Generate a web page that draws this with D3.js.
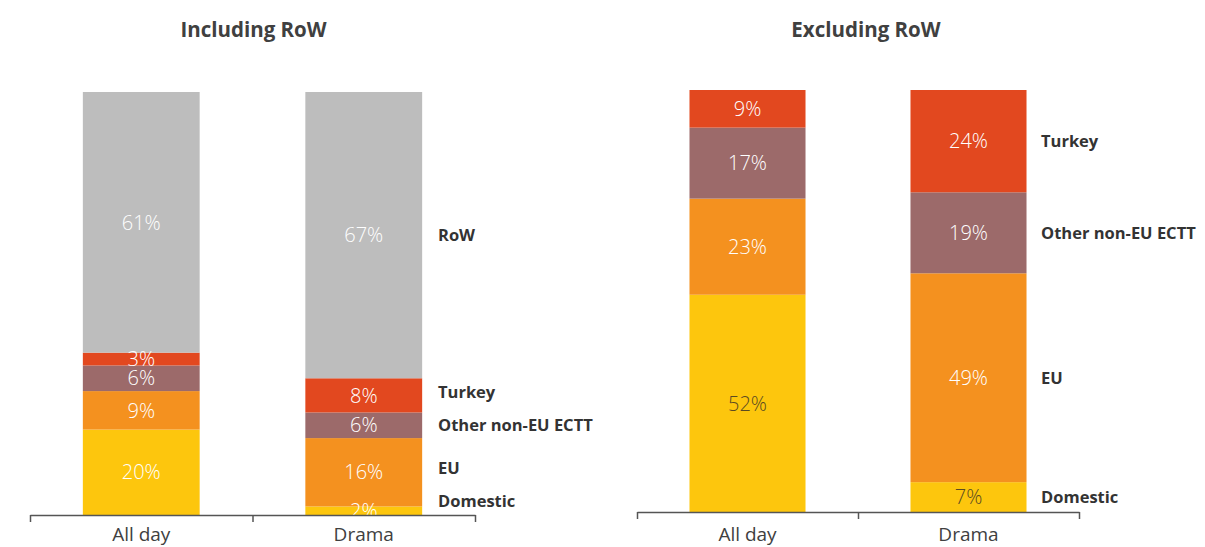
<!DOCTYPE html>
<html>
<head>
<meta charset="utf-8">
<script src="https://cdn.jsdelivr.net/npm/d3@7"></script>
<style>
  html, body { margin: 0; padding: 0; background: #fff; }
  svg { display: block; }
</style>
</head>
<body>
<svg id="chart" width="1205" height="547"></svg>
<script>
// Categories and series (stacking order: bottom to top)
const categories = ["All day", "Drama"];
const seriesNames = ["Domestic", "EU", "Other non-EU ECTT", "Turkey", "RoW"];

// Share of hours, including rest of world (%)
const incDomestic = [20, 2];
const incEU = [9, 16];
const incOther = [6, 6];
const incTurkey = [3, 8];
const incRoW = [61, 67];

// Share of hours, excluding rest of world (%)
const exDomestic = [52, 7];
const exEU = [23, 49];
const exOther = [17, 19];
const exTurkey = [9, 24];

const colors = {
  "Domestic": "#fdc60d",
  "EU": "#f4911f",
  "Other non-EU ECTT": "#9c6a6a",
  "Turkey": "#e2481f",
  "RoW": "#bdbdbd"
};

const boldFont = "'Open Sans', Lato, sans-serif";
const lightFont = "'Open Sans', Lato, sans-serif";

const svg = d3.select("#chart");

function buildRows(seriesMap) {
  return categories.map((c, i) => {
    const row = { category: c };
    Object.keys(seriesMap).forEach(k => { row[k] = seriesMap[k][i]; });
    return row;
  });
}

function drawPanel(cfg) {
  const keys = seriesNames.filter(k => k in cfg.series);
  const rows = buildRows(cfg.series);
  const stacked = d3.stack().keys(keys).offset(d3.stackOffsetExpand)(rows);

  const x = d3.scaleBand().domain(categories).range(cfg.xRange).padding(0);
  const y = d3.scaleLinear().domain([0, 1]).range([cfg.bottom, cfg.top]);
  const barW = x.bandwidth() * 0.525;
  const barX = c => x(c) + (x.bandwidth() - barW) / 2;

  const g = svg.append("g");

  // Title
  g.append("text")
    .attr("x", (cfg.xRange[0] + cfg.xRange[1]) / 2 + cfg.titleDx)
    .attr("y", 37)
    .attr("text-anchor", "middle")
    .attr("font-family", boldFont)
    .attr("font-weight", 700)
    .attr("font-size", 20.5)
    .attr("fill", "#404040")
    .text(cfg.title);

  // Stacked bars
  const layers = g.selectAll("g.layer").data(stacked).join("g")
    .attr("class", "layer")
    .attr("fill", d => colors[d.key]);

  layers.selectAll("rect").data(d => d).join("rect")
    .attr("x", d => barX(d.data.category))
    .attr("width", barW)
    .attr("y", d => y(d[1]))
    .attr("height", d => y(d[0]) - y(d[1]));

  // Value labels inside segments
  stacked.forEach(layer => {
    layer.forEach(d => {
      const val = d.data[layer.key];
      g.append("text")
        .attr("x", barX(d.data.category) + barW / 2)
        .attr("y", (y(d[0]) + y(d[1])) / 2)
        .attr("dy", "0.36em")
        .attr("text-anchor", "middle")
        .attr("font-family", lightFont)
        .attr("font-weight", 300)
        .attr("font-size", 20)
        .attr("fill", layer.key === "Domestic" ? cfg.domesticTextColor : "#ffffff")
        .text(val + "%");
    });
  });

  // Series labels beside the last bar, nudged apart where segments are thin
  const last = categories[categories.length - 1];
  const centers = stacked.map(layer => {
    const d = layer.find(p => p.data.category === last);
    return { key: layer.key, y: (y(d[0]) + y(d[1])) / 2 };
  });
  const minGap = 33;
  let prev = cfg.bottom - 14 + minGap;
  centers.forEach(c => {
    c.y = Math.min(c.y, prev - minGap);
    prev = c.y;
  });
  centers.forEach(c => {
    g.append("text")
      .attr("x", cfg.legendX)
      .attr("y", c.y)
      .attr("dy", "0.36em")
      .attr("font-family", boldFont)
      .attr("font-weight", 700)
      .attr("font-size", 16.5)
      .attr("fill", "#333333")
      .text(c.key);
  });

  // Category axis: ticks at band edges
  const edge = d3.scaleLinear().domain([0, categories.length]).range(cfg.xRange);
  const axis = d3.axisBottom(edge)
    .tickValues(d3.range(categories.length + 1))
    .tickFormat("")
    .tickSizeInner(7)
    .tickSizeOuter(0);
  const ax = g.append("g")
    .attr("transform", `translate(0,${cfg.bottom})`)
    .call(axis);
  ax.selectAll("path, line").attr("stroke", "#555").attr("stroke-width", 1.5);

  g.selectAll("text.cat").data(categories).join("text")
    .attr("class", "cat")
    .attr("x", c => x(c) + x.bandwidth() / 2)
    .attr("y", 541)
    .attr("text-anchor", "middle")
    .attr("font-family", lightFont)
    .attr("font-weight", 400)
    .attr("font-size", 19)
    .attr("fill", "#404040")
    .text(c => c);
}

drawPanel({
  title: "Including RoW",
  titleDx: 1,
  series: { "Domestic": incDomestic, "EU": incEU, "Other non-EU ECTT": incOther, "Turkey": incTurkey, "RoW": incRoW },
  xRange: [30, 475],
  top: 92,
  bottom: 515,
  legendX: 438,
  domesticTextColor: "#ffffff"
});

drawPanel({
  title: "Excluding RoW",
  titleDx: 8,
  series: { "Domestic": exDomestic, "EU": exEU, "Other non-EU ECTT": exOther, "Turkey": exTurkey },
  xRange: [637, 1079],
  top: 90,
  bottom: 512,
  legendX: 1041,
  domesticTextColor: "#5a4a22"
});
</script>
</body>
</html>
